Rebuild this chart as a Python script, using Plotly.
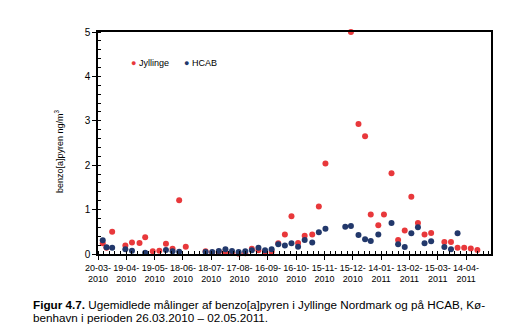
import plotly.graph_objects as go

dates = [
    "2010-03-25", "2010-03-29", "2010-04-04", "2010-04-18", "2010-04-25",
    "2010-05-03", "2010-05-09", "2010-05-17", "2010-05-24", "2010-05-31",
    "2010-06-07", "2010-06-14", "2010-06-21", "2010-07-12", "2010-07-19",
    "2010-07-26", "2010-08-02", "2010-08-09", "2010-08-16", "2010-08-23",
    "2010-08-30", "2010-09-06", "2010-09-13", "2010-09-20", "2010-09-27",
    "2010-10-04", "2010-10-11", "2010-10-18", "2010-10-25", "2010-11-02",
    "2010-11-09", "2010-11-16", "2010-12-07", "2010-12-13", "2010-12-21",
    "2010-12-28", "2011-01-03", "2011-01-11", "2011-01-17", "2011-01-25",
    "2011-02-01", "2011-02-08", "2011-02-15", "2011-02-22", "2011-03-01",
    "2011-03-08", "2011-03-22", "2011-03-29", "2011-04-05", "2011-04-12",
    "2011-04-19", "2011-04-26",
]

jyllinge = [
    0.24, 0.14, 0.50, 0.19, 0.26,
    0.25, 0.38, 0.06, 0.075, 0.23,
    0.12, 1.21, 0.165, 0.06, 0.03,
    0.05, 0.05, 0.02, 0.01, 0.015,
    0.12, 0.085, 0.015, 0.05, 0.24,
    0.44, 0.85, 0.25, 0.41, 0.44,
    1.07, 2.04, None, 5.0, 2.93,
    2.65, 0.89, 0.65, 0.89, 1.82,
    0.315, 0.53, 1.29, 0.70, 0.44,
    0.475, 0.27, 0.27, 0.14, 0.14,
    0.125, 0.09,
]

hcab = [
    0.31, 0.15, 0.14, 0.105, 0.075,
    None, 0.03, None, None, 0.09,
    0.06, 0.05, None, 0.045, 0.045,
    0.07, 0.105, 0.07, 0.045, 0.06,
    0.085, 0.14, 0.083, 0.105, 0.22,
    0.19, 0.24, 0.165, 0.315, 0.26,
    0.49, 0.57, 0.615, 0.63, 0.43,
    0.33, 0.29, 0.44, None, 0.70,
    0.22, 0.155, 0.465, 0.60, 0.24,
    0.285, 0.155, 0.105, 0.465, None,
    None, None,
]

series_names = ["Jyllinge", "HCAB"]
series_colors = ["#E8383B", "#22386B"]

y_title = "benzo[a]pyren ng/m<sup>3</sup>"
caption_bold = "Figur 4.7."
caption_line1 = " Ugemidlede målinger af benzo[a]pyren i Jyllinge Nordmark og på HCAB, Kø-"
caption_line2 = "benhavn i perioden 26.03.2010 – 02.05.2011."

FONT = "Liberation Sans, Arial, sans-serif"
DAY = 86400000

fig = go.Figure()
for name, vals, col in zip(series_names, [jyllinge, hcab], series_colors):
    fig.add_trace(go.Scatter(
        x=dates, y=vals, mode="markers", name=name,
        marker=dict(color=col, size=6, line=dict(width=0)),
        cliponaxis=False, showlegend=False,
    ))

W, H = 513, 336
L, R, T, B = 98, 22, 32, 82
pw, ph = W - L - R, H - T - B

def px_x(p):
    return (p - L) / pw

def px_y(p):
    return (H - B - p) / ph

fig.update_layout(
    width=W, height=H,
    margin=dict(l=L, r=R, t=T, b=B, pad=0),
    paper_bgcolor="white", plot_bgcolor="white",
    font=dict(family=FONT, size=9, color="black"),
    xaxis=dict(
        type="date",
        range=["2010-03-20", "2011-05-10 10:00"],
        tick0="2010-03-20", dtick=30 * DAY,
        tickformat="%d-%m-<br>%Y",
        ticks="outside", ticklen=4, tickwidth=1, tickcolor="black",
        minor=dict(tick0="2010-03-20", dtick=6 * DAY, ticks="inside",
                   ticklen=3, tickwidth=1, tickcolor="black"),
        showline=True, linecolor="black", linewidth=1.5, mirror=True,
        showgrid=False, zeroline=False,
        tickfont=dict(size=9, family=FONT, color="black"),
    ),
    yaxis=dict(
        range=[0, 5], dtick=1, tick0=0,
        ticks="outside", ticklen=4, tickwidth=1, tickcolor="black",
        minor=dict(dtick=0.2, ticks="inside", ticklen=3, tickwidth=1,
                   tickcolor="black"),
        showline=True, linecolor="black", linewidth=1.5, mirror=True,
        showgrid=False, zeroline=False,
        tickfont=dict(size=10, family=FONT, color="black"),
    ),
)

annotations = [
    dict(text=y_title, textangle=-90, x=px_x(59), y=px_y(151),
         xref="paper", yref="paper", showarrow=False,
         xanchor="center", yanchor="middle", font=dict(size=9, family=FONT)),
    dict(text=f"<b>{caption_bold}</b>{caption_line1}", x=px_x(31), y=px_y(304),
         xref="paper", yref="paper", showarrow=False,
         xanchor="left", yanchor="middle", font=dict(size=11.7, family=FONT)),
    dict(text=caption_line2, x=px_x(31), y=px_y(317),
         xref="paper", yref="paper", showarrow=False,
         xanchor="left", yanchor="middle", font=dict(size=11.7, family=FONT)),
]
legend_x = [129, 182]
for name, col, lx in zip(series_names, series_colors, legend_x):
    annotations.append(dict(
        text=f"<span style='color:{col}'>●</span> {name}",
        x=px_x(lx), y=px_y(63), xref="paper", yref="paper", showarrow=False,
        xanchor="left", yanchor="middle", font=dict(size=9, family=FONT),
    ))
fig.update_layout(annotations=annotations)

fig.write_html("out.html")
